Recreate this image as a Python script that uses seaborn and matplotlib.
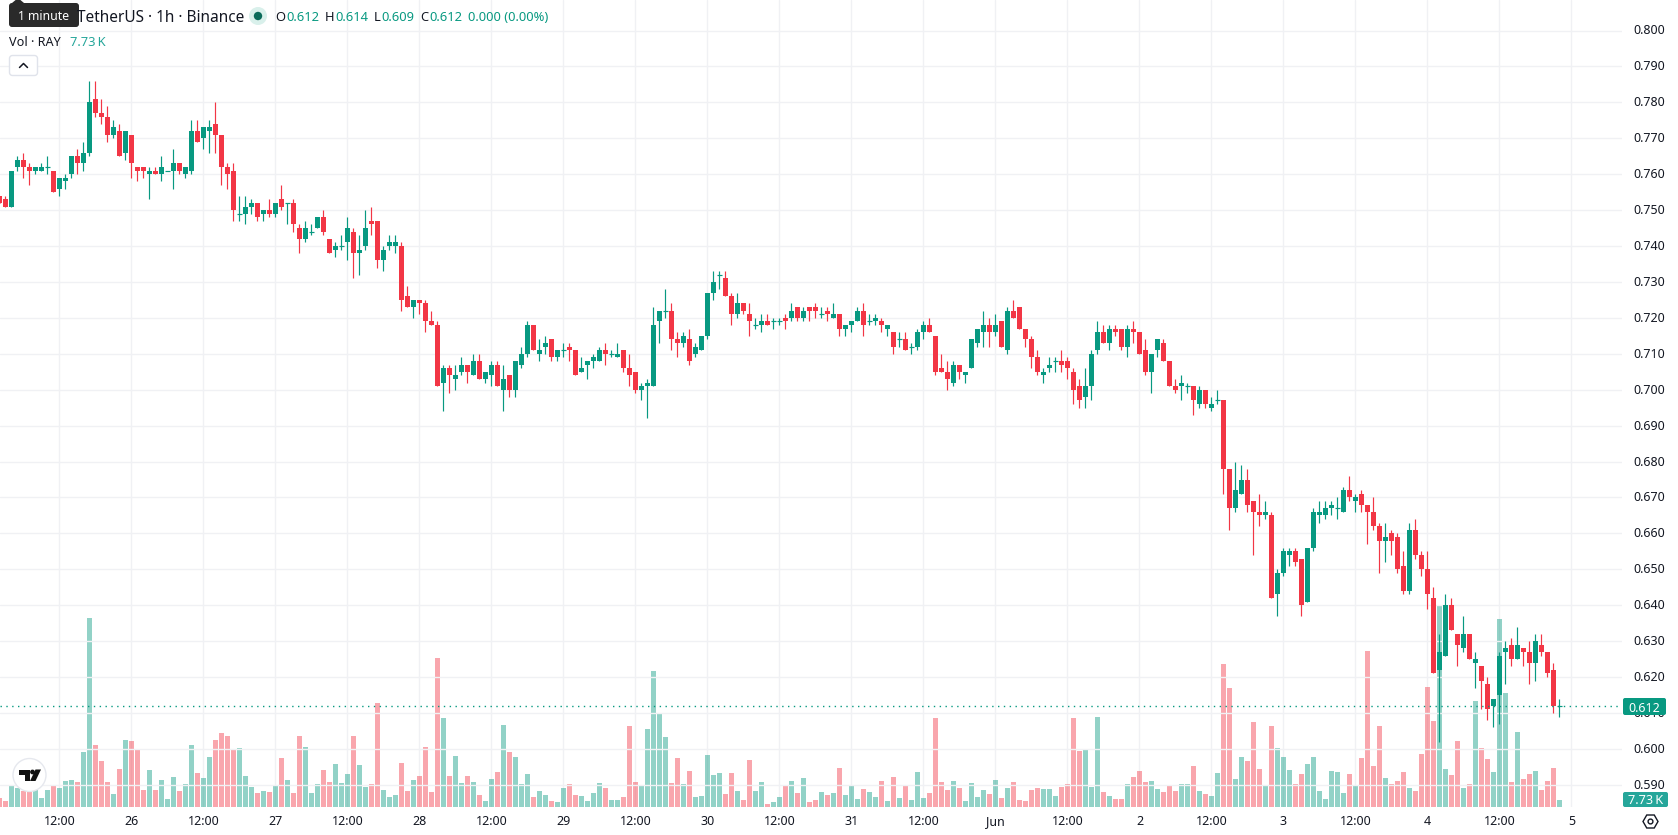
import numpy as np
import pandas as pd
import matplotlib
matplotlib.use("Agg")
import matplotlib.pyplot as plt
from matplotlib.patches import Circle, FancyBboxPatch, Polygon, RegularPolygon
from matplotlib.ticker import FormatStrFormatter
from matplotlib.transforms import ScaledTranslation
import seaborn as sns

# Hourly RAY/USDT candles, prices in thousandths of a USDT.
opens_milli = [
    754, 753, 751, 762, 764, 762, 761, 761, 762, 761, 756, 758, 760, 765, 763, 766, 781, 777, 776, 771,
    772, 766, 771, 762, 762, 760, 761, 760, 761, 761, 763, 760, 761, 772, 770, 772, 774, 771, 762, 761,
    749, 749, 751, 752, 749, 750, 749, 753, 752, 752, 745, 742, 744, 745, 748, 742, 739, 740, 741, 744,
    738, 740, 747, 747, 736, 740, 740, 740, 726, 723, 725, 724, 719, 718, 702, 706, 703, 705, 707, 704,
    708, 703, 704, 707, 700, 704, 700, 707, 710, 718, 710, 712, 714, 709, 711, 712, 711, 705, 707, 708,
    708, 711, 710, 709, 711, 706, 705, 700, 701, 701, 719, 722, 722, 714, 713, 714, 710, 711, 715, 727,
    732, 731, 726, 721, 724, 721, 718, 718, 719, 719, 719, 720, 720, 723, 720, 723, 723, 721, 722, 720,
    721, 717, 718, 719, 722, 719, 719, 719, 717, 716, 714, 714, 712, 712, 716, 718, 715, 706, 705, 702,
    707, 704, 706, 713, 716, 718, 716, 719, 711, 722, 723, 717, 714, 709, 704, 706, 708, 708, 708, 705,
    701, 698, 701, 711, 716, 713, 717, 717, 712, 717, 716, 711, 705, 711, 713, 708, 701, 701, 701, 701,
    696, 700, 695, 697, 697, 678, 667, 671, 675, 669, 666, 665, 665, 643, 649, 654, 655, 653, 641, 656,
    665, 665, 667, 667, 666, 672, 669, 671, 668, 666, 662, 658, 660, 659, 651, 644, 661, 654, 650, 642,
    622, 626, 640, 632, 628, 632, 624, 623, 618, 612, 615, 627, 629, 625, 628, 627, 624, 629, 627, 622,
    612,
]
highs_milli = [
    754, 754, 761, 765, 766, 763, 762, 763, 765, 761, 759, 760, 765, 767, 769, 786, 786, 781, 779, 775,
    774, 772, 771, 762, 762, 762, 762, 765, 761, 767, 763, 762, 775, 775, 773, 775, 780, 771, 763, 763,
    754, 754, 753, 752, 750, 753, 752, 757, 752, 753, 746, 747, 746, 748, 750, 742, 741, 743, 748, 745,
    743, 750, 751, 747, 740, 743, 743, 741, 729, 725, 725, 725, 722, 719, 707, 707, 707, 709, 707, 710,
    710, 705, 708, 708, 707, 704, 708, 712, 719, 718, 714, 715, 714, 711, 713, 713, 711, 709, 708, 710,
    712, 713, 711, 713, 711, 710, 705, 702, 703, 723, 722, 728, 724, 716, 716, 717, 713, 715, 727, 733,
    733, 733, 727, 727, 724, 724, 720, 721, 721, 720, 720, 721, 724, 723, 723, 723, 724, 723, 723, 724,
    721, 718, 719, 723, 724, 721, 721, 720, 718, 716, 716, 716, 713, 717, 719, 720, 715, 710, 708, 708,
    707, 705, 714, 717, 722, 720, 721, 719, 723, 725, 723, 717, 715, 711, 706, 709, 709, 711, 709, 706,
    703, 706, 711, 719, 718, 718, 718, 717, 718, 719, 716, 714, 710, 714, 714, 708, 703, 704, 702, 701,
    701, 700, 698, 700, 697, 678, 680, 679, 678, 669, 671, 669, 666, 650, 656, 656, 656, 653, 656, 667,
    669, 669, 669, 670, 673, 676, 671, 672, 668, 670, 663, 663, 661, 660, 655, 663, 664, 655, 655, 645,
    632, 643, 642, 632, 637, 632, 627, 623, 620, 614, 627, 630, 631, 634, 628, 630, 632, 632, 627, 624,
    614,
]
lows_milli = [
    752, 751, 751, 761, 759, 757, 760, 761, 760, 755, 754, 756, 759, 760, 761, 765, 776, 774, 769, 770,
    765, 764, 759, 758, 759, 753, 760, 758, 761, 756, 760, 759, 760, 769, 767, 766, 766, 757, 756, 747,
    747, 746, 749, 747, 747, 748, 748, 750, 746, 744, 738, 741, 743, 745, 743, 738, 737, 739, 736, 731,
    732, 739, 743, 734, 733, 739, 738, 722, 723, 720, 721, 716, 718, 701, 694, 699, 700, 704, 702, 704,
    703, 702, 701, 701, 694, 698, 698, 706, 709, 711, 708, 710, 708, 708, 709, 708, 704, 705, 703, 706,
    708, 707, 709, 709, 705, 701, 699, 697, 692, 701, 713, 720, 711, 709, 712, 707, 709, 711, 714, 725,
    728, 726, 718, 720, 721, 715, 717, 716, 718, 717, 718, 717, 719, 719, 719, 719, 720, 720, 719, 720,
    715, 715, 716, 719, 715, 718, 718, 716, 715, 710, 712, 711, 710, 711, 714, 716, 704, 705, 700, 701,
    703, 702, 706, 712, 712, 712, 715, 712, 710, 720, 717, 712, 706, 704, 702, 705, 705, 705, 703, 696,
    695, 695, 697, 710, 713, 711, 715, 711, 709, 713, 710, 704, 699, 709, 708, 701, 699, 697, 699, 693,
    695, 695, 694, 696, 671, 661, 666, 671, 666, 654, 662, 664, 642, 637, 648, 651, 651, 637, 641, 655,
    663, 664, 665, 664, 666, 669, 666, 666, 657, 661, 649, 652, 654, 649, 643, 643, 653, 648, 639, 621,
    602, 626, 633, 623, 627, 625, 617, 611, 608, 606, 607, 618, 623, 625, 623, 618, 619, 626, 620, 610,
    609,
]
closes_milli = [
    752, 751, 761, 764, 762, 761, 762, 762, 762, 755, 759, 759, 765, 763, 766, 780, 777, 776, 771, 773,
    765, 772, 763, 761, 761, 761, 760, 762, 761, 763, 761, 762, 772, 769, 773, 773, 771, 762, 760, 750,
    749, 751, 752, 748, 750, 749, 752, 751, 752, 746, 742, 745, 744, 748, 744, 738, 740, 740, 745, 738,
    739, 745, 746, 736, 739, 741, 741, 725, 723, 725, 724, 719, 718, 701, 706, 704, 704, 707, 705, 708,
    703, 705, 707, 701, 703, 700, 708, 710, 718, 711, 711, 713, 709, 711, 711, 711, 704, 706, 708, 709,
    711, 710, 710, 710, 706, 704, 700, 701, 702, 718, 722, 722, 714, 713, 715, 708, 712, 715, 727, 730,
    732, 726, 721, 724, 722, 719, 718, 719, 718, 719, 719, 719, 722, 720, 722, 722, 722, 721, 721, 721,
    717, 718, 719, 722, 718, 719, 720, 718, 718, 712, 714, 711, 712, 716, 718, 716, 705, 705, 703, 707,
    705, 705, 714, 717, 718, 716, 718, 712, 722, 720, 717, 714, 709, 705, 705, 707, 708, 707, 706, 700,
    697, 701, 710, 716, 713, 717, 716, 712, 717, 716, 710, 705, 710, 714, 708, 701, 700, 702, 701, 697,
    700, 696, 696, 697, 678, 667, 672, 675, 668, 666, 665, 666, 642, 649, 655, 655, 652, 640, 656, 666,
    666, 667, 668, 667, 672, 670, 670, 668, 666, 662, 658, 659, 658, 650, 644, 661, 654, 650, 643, 621,
    627, 640, 633, 629, 632, 625, 625, 619, 611, 614, 626, 628, 625, 629, 627, 624, 630, 627, 621, 612,
    612,
]

# Traded volume per candle, in thousands of RAY.
volume_k = [
    9.9, 6.6, 24.3, 21.0, 17.7, 16.6, 18.8, 9.9, 18.8, 24.3, 21.0, 28.7, 29.8, 27.6, 60.7, 208.7,
    68.4, 50.8, 27.6, 14.4, 42.0, 74.0, 72.9, 64.0, 18.8, 40.8, 18.8, 29.8, 8.8, 33.1, 17.7, 25.4,
    68.4, 37.5, 32.0, 55.2, 74.0, 81.7, 78.4, 64.0, 65.1, 34.2, 22.1, 15.5, 17.7, 16.6, 23.2, 54.1,
    29.8, 15.5, 78.4, 66.2, 15.5, 25.4, 40.8, 27.6, 47.5, 26.5, 36.4,
    78.4, 46.4, 22.1, 25.4, 114.8, 18.8, 11.0, 13.2, 48.6, 17.7, 29.8, 34.2, 66.2, 16.6, 164.5, 98.3,
    34.2, 56.3, 26.5, 34.2, 27.6, 13.2, 6.6, 30.9, 38.6, 90.5, 60.7, 55.2, 25.4, 36.4, 11.0, 17.7,
    13.2, 6.6, 5.5, 21.0, 25.4, 13.2, 12.1, 6.6, 15.5, 26.5, 21.0, 7.7, 7.7, 11.0, 89.4, 27.6,
    24.3, 86.1, 150.1, 103.8, 77.3, 26.5, 54.1, 25.4, 39.7, 11.0, 12.1, 57.4,
    35.3, 37.5, 14.4, 37.5, 17.7, 7.7, 51.9, 17.7, 27.6, 3.3, 5.5, 11.0, 23.2, 28.7, 15.5, 32.0,
    5.5, 7.7, 16.6, 13.2, 15.5, 43.1, 13.2, 24.3, 8.8, 19.9, 16.6, 11.0, 28.7, 6.6, 33.1, 9.9,
    24.3, 7.7, 38.6, 9.9, 15.5, 98.3, 27.6, 18.8, 28.7, 21.0, 6.6, 26.5, 11.0, 18.8, 14.4, 29.8,
    9.9, 21.0, 27.6, 7.7, 6.6, 18.8, 21.0, 19.9, 19.9, 12.1, 22.1, 25.4,
    98.3, 61.8, 64.0, 22.1, 99.4, 16.6, 12.1, 8.8, 8.8, 25.4, 33.1, 39.7, 27.6, 28.7, 19.9, 16.6,
    23.2, 17.7, 25.4, 25.4, 45.3, 17.7, 14.4, 12.1, 37.5, 157.9, 131.4, 30.9, 55.2, 50.8, 93.8, 42.0,
    23.2, 89.4, 65.1, 55.2, 40.8, 25.4, 36.4, 47.5, 55.2, 17.7, 8.8, 39.7, 38.6, 15.5, 36.4, 23.2,
    54.1, 172.2, 45.3, 89.4, 32.0, 25.4, 28.7, 38.6, 21.0, 17.7, 58.5, 132.5,
    94.9, 223.0, 42.0, 35.3, 72.9, 21.0, 25.4, 117.0, 65.1, 53.0, 38.6, 207.6, 125.9, 27.6, 82.8, 30.9,
    36.4, 39.7, 18.8, 28.7, 43.1, 7.73,
]

time_labels = ["12:00", "26", "12:00", "27", "12:00", "28", "12:00", "29", "12:00", "30", "12:00", "31",
               "12:00", "Jun", "12:00", "2", "12:00", "3", "12:00", "4", "12:00", "5"]
price_ticks = [0.59, 0.60, 0.61, 0.62, 0.63, 0.64, 0.65, 0.66, 0.67, 0.68, 0.69, 0.70, 0.71,
               0.72, 0.73, 0.74, 0.75, 0.76, 0.77, 0.78, 0.79, 0.80]
last_price = 0.612

UP = "#089981"
DOWN = "#f23645"
INK = "#131722"
GRID = "#f0f1f4"
FONT = ["Noto Sans", "DejaVu Sans"]

sns.set_theme(style="white", rc={"font.family": FONT})
plt.rcParams["font.family"] = FONT

W, H = 1678, 835
PANE_W, PANE_H = 1622, 807
PX_PER_USDT = 3592

candles = pd.DataFrame({
    "hour": np.arange(len(opens_milli)),
    "open": np.array(opens_milli) / 1000,
    "high": np.array(highs_milli) / 1000,
    "low": np.array(lows_milli) / 1000,
    "close": np.array(closes_milli) / 1000,
    "volume": volume_k,
})
candles["direction"] = np.where(candles["close"] >= candles["open"], "up", "down")

fig = plt.figure(figsize=(W / 100, H / 100), dpi=100, facecolor="white")
pane = [0, 1 - PANE_H / H, PANE_W / W, PANE_H / H]

# Horizontal scale: one candle every 6 px, first candle centred just off the left edge.
x_limits = (0.5 / 6, (PANE_W + 0.5) / 6)
time_ticks = [10 + 12 * k for k in range(len(time_labels))]

# Volume pane sits underneath and carries the vertical grid.
ax_vol = fig.add_axes(pane, zorder=1)
sns.barplot(data=candles, x="hour", y="volume", hue="direction", hue_order=["up", "down"],
            palette={"up": UP, "down": DOWN}, native_scale=True, dodge=False, width=5 / 6,
            saturation=1, alpha=0.44, legend=False, linewidth=0, ax=ax_vol)
ax_vol.set_xlim(*x_limits)
ax_vol.set_ylim(0, PANE_H * 1.104)
ax_vol.set_xlabel("")
ax_vol.set_ylabel("")
ax_vol.set_yticks([])
ax_vol.set_xticks(time_ticks)
ax_vol.set_xticklabels(time_labels, fontsize=9, color=INK)
ax_vol.tick_params(axis="x", length=0, pad=6)
for tick_label in ax_vol.get_xticklabels():
    if tick_label.get_text() == "Jun":
        tick_label.set_fontweight("bold")
ax_vol.grid(axis="x", color=GRID, linewidth=1.0)
ax_vol.set_axisbelow(True)
sns.despine(ax=ax_vol, left=True, bottom=True, right=True, top=True)

# Price pane with the candlesticks on top.
ax = fig.add_axes(pane, zorder=2)
ax.patch.set_alpha(0)
ax.set_xlim(*x_limits)
ax.set_ylim(0.80 - (PANE_H - 30.5) / PX_PER_USDT, 0.80 + 30.5 / PX_PER_USDT)
ax.set_xticks([])
ax.yaxis.tick_right()
ax.set_yticks(price_ticks)
ax.yaxis.set_major_formatter(FormatStrFormatter("%.3f"))
ax.tick_params(axis="y", length=0, pad=8, labelsize=9, labelcolor=INK)
lift = ScaledTranslation(0, 1 / 100, fig.dpi_scale_trans)
for tick_label in ax.get_yticklabels():
    tick_label.set_verticalalignment("center_baseline")
    tick_label.set_transform(tick_label.get_transform() + lift)
ax.grid(axis="y", color=GRID, linewidth=1.0)
ax.set_axisbelow(True)
sns.despine(ax=ax, left=True, bottom=True, right=True, top=True)

colors = np.where(candles["direction"] == "up", UP, DOWN)
ax.vlines(candles["hour"], candles["low"], candles["high"], colors=colors, linewidth=0.85, zorder=3)
ax.bar(candles["hour"], (candles["close"] - candles["open"]).abs(),
       bottom=candles[["open", "close"]].min(axis=1), width=5 / 6, color=colors, linewidth=0, zorder=4)
flat = candles[candles["close"] == candles["open"]]
ax.hlines(flat["close"], flat["hour"] - 5 / 12, flat["hour"] + 5 / 12,
          colors=np.where(flat["direction"] == "up", UP, DOWN), linewidth=0.85, zorder=4)

# Last-price line.
ax.axhline(last_price, color=UP, linewidth=1.0, linestyle=(0, (1, 3.2)), zorder=5)

# Interface overlay in pixel coordinates.
ui = fig.add_axes([0, 0, 1, 1], zorder=5)
ui.set_xlim(0, W)
ui.set_ylim(H, 0)
ui.axis("off")
ui.patch.set_alpha(0)


def label(x, y, text, color=INK, size=9, ha="left", **kw):
    ui.text(x, y, text, color=color, fontsize=size, ha=ha, va="center_baseline", **kw)


def rounded(x0, y0, w, h, face, edge="none", radius=2, lw=0):
    ui.add_patch(FancyBboxPatch((x0 + radius, y0 + radius), w - 2 * radius, h - 2 * radius,
                                boxstyle=f"round,pad={radius},rounding_size={radius}",
                                facecolor=face, edgecolor=edge, linewidth=lw))


# Legend row.
label(77, 16, "TetherUS · 1h · Binance", size=11.1)
ui.add_patch(Circle((258, 16), 9, facecolor="#d9f0eb", edgecolor="none"))
ui.add_patch(Circle((258, 16), 4.2, facecolor="#0b6b5a", edgecolor="none"))
for px, tag, vx, value in [(275, "O", 286, "0.612"), (325, "H", 335, "0.614"),
                           (374, "L", 381, "0.609"), (420, "C", 429, "0.612")]:
    label(px, 16, tag, size=9.3)
    label(vx, 16, value, color=UP, size=9.3)
label(468, 16, "0.000 (0.00%)", color=UP, size=9.3)
label(9, 41, "Vol · RAY", size=9.1)
label(70, 41, "7.73\u2009K", color="#26a69a", size=9.3)

# Tooltip over the legend title.
ui.add_patch(Polygon([(12, 3), (18, -2), (24, 3)], closed=True, facecolor="#2a2a2a", edgecolor="none"))
rounded(9, 3, 70, 24, "#2a2a2a", radius=3)
label(44, 15.5, "1 minute", color="white", size=8.8, ha="center")

# Collapse button.
rounded(9.5, 55.5, 28, 20, "white", edge="#e0e3eb", radius=3, lw=1)
ui.plot([19.5, 23.5, 27.5], [67.5, 63.5, 67.5], color=INK, linewidth=1.1)

# Value flags on the price scale.
rounded(1623, 698, 43, 17, UP, radius=2)
label(1644.5, 706.5, "0.612", color="white", size=9, ha="center")
rounded(1623, 792, 45, 15, "#26a69a", radius=2)
label(1645.5, 799.5, "7.73\u2009K", color="white", size=9.2, ha="center")

# Logo badge.
ui.add_patch(Circle((29.5, 775), 16.5, facecolor="white", edgecolor="#e6e8ee", linewidth=1))
ui.add_patch(Polygon([(19, 769.5), (30, 769.5), (30, 781), (24.5, 781), (24.5, 775), (19, 775)],
                     closed=True, facecolor="#111111", edgecolor="none"))
ui.add_patch(Circle((32.5, 772), 2.4, facecolor="#111111", edgecolor="none"))
ui.add_patch(Polygon([(35.5, 769.5), (41, 769.5), (35.5, 781), (30, 781)], closed=True,
                     facecolor="#111111", edgecolor="none"))

# Scale settings icon.
ui.add_patch(RegularPolygon((1650.5, 821.5), 6, radius=7.5, orientation=np.pi / 2,
                            facecolor="white", edgecolor=INK, linewidth=1))
ui.add_patch(Circle((1650.5, 821.5), 2.4, facecolor="white", edgecolor=INK, linewidth=1))

fig.savefig("out.png", dpi=100, facecolor="white")
